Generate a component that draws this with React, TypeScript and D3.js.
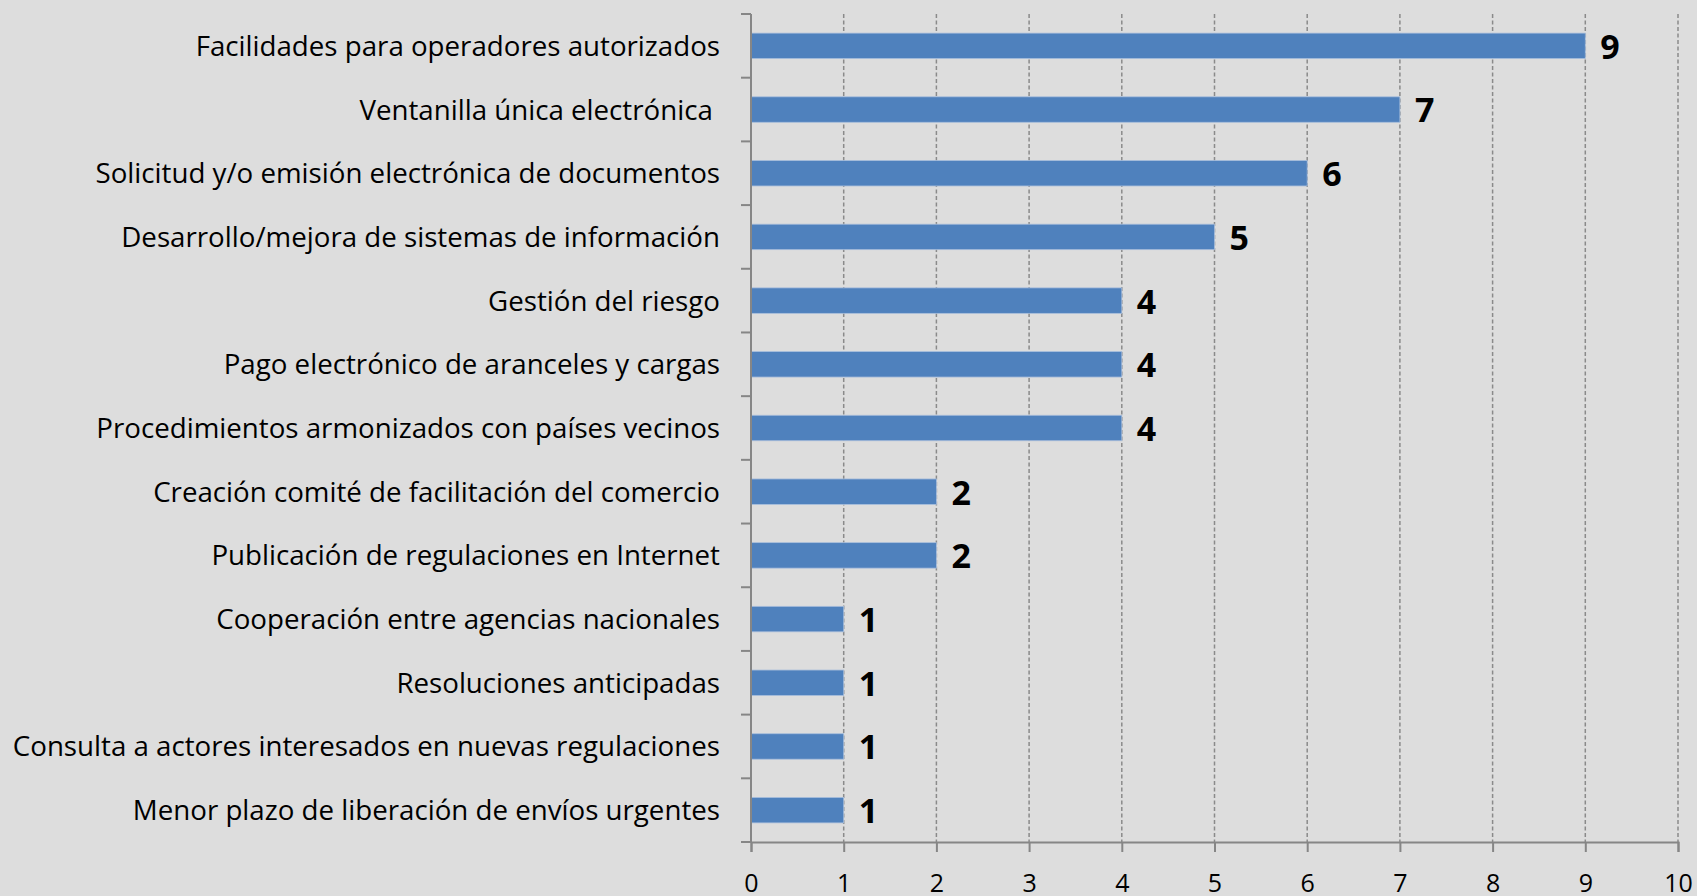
import { useEffect, useRef } from "react";
import * as d3 from "d3";

const categories = [
  "Facilidades para operadores autorizados",
  "Ventanilla única electrónica ",
  "Solicitud y/o emisión electrónica de documentos",
  "Desarrollo/mejora de sistemas de información",
  "Gestión del riesgo",
  "Pago electrónico de aranceles y cargas",
  "Procedimientos armonizados con países vecinos",
  "Creación comité de facilitación del comercio",
  "Publicación de regulaciones en Internet",
  "Cooperación entre agencias nacionales",
  "Resoluciones anticipadas",
  "Consulta a actores interesados en nuevas regulaciones",
  "Menor plazo de liberación de envíos urgentes",
];

const values = [9, 7, 6, 5, 4, 4, 4, 2, 2, 1, 1, 1, 1];

const xTicks = [0, 1, 2, 3, 4, 5, 6, 7, 8, 9, 10];

const FONT = "'Open Sans', Lato, sans-serif";

export default function App() {
  const svgRef = useRef<SVGSVGElement>(null);
  const width = 1697;
  const height = 896;
  const margin = { top: 14, right: 19, bottom: 54, left: 751 };

  useEffect(() => {
    const svg = d3.select(svgRef.current);
    svg.selectAll("*").remove();

    const innerWidth = width - margin.left - margin.right;
    const innerHeight = height - margin.top - margin.bottom;

    const x = d3.scaleLinear().domain([0, 10]).range([0, innerWidth]);
    const y = d3
      .scaleBand()
      .domain(categories)
      .range([0, innerHeight])
      .paddingInner(0.6)
      .paddingOuter(0.3);

    svg
      .append("rect")
      .attr("width", width)
      .attr("height", height)
      .attr("fill", "#dddddd");

    const g = svg
      .append("g")
      .attr("transform", `translate(${margin.left},${margin.top})`);

    // dashed vertical gridlines
    g.selectAll(".grid")
      .data(xTicks.slice(1))
      .enter()
      .append("line")
      .attr("x1", (d) => x(d))
      .attr("x2", (d) => x(d))
      .attr("y1", 0)
      .attr("y2", innerHeight)
      .attr("stroke", "#8a8a8a")
      .attr("stroke-width", 1.5)
      .attr("stroke-dasharray", "4,2.5");

    // bars
    g.selectAll(".bar")
      .data(values)
      .enter()
      .append("rect")
      .attr("x", x(0))
      .attr("y", (_, i) => y(categories[i])!)
      .attr("width", (d) => x(d) - x(0))
      .attr("height", y.bandwidth())
      .attr("fill", "#4f81bd")
      .attr("stroke", "#a9bfdc")
      .attr("stroke-width", 0.8);

    // value labels
    g.selectAll(".val")
      .data(values)
      .enter()
      .append("text")
      .attr("x", (d) => x(d) + 15)
      .attr("y", (_, i) => y(categories[i])! + y.bandwidth() / 2)
      .attr("dy", "0.38em")
      .attr("font-family", FONT)
      .attr("font-weight", "bold")
      .attr("font-size", 34)
      .attr("fill", "#000")
      .text((d) => d);

    const band = innerHeight / categories.length;

    // y axis with category ticks at band boundaries
    g.append("line")
      .attr("x1", 0)
      .attr("x2", 0)
      .attr("y1", 0)
      .attr("y2", innerHeight)
      .attr("stroke", "#868686")
      .attr("stroke-width", 2);

    g.selectAll(".ytick")
      .data(d3.range(categories.length + 1))
      .enter()
      .append("line")
      .attr("x1", -10)
      .attr("x2", 0)
      .attr("y1", (i) => i * band)
      .attr("y2", (i) => i * band)
      .attr("stroke", "#868686")
      .attr("stroke-width", 2);

    g.selectAll(".ylabel")
      .data(categories)
      .enter()
      .append("text")
      .attr("x", -31)
      .attr("y", (d) => y(d)! + y.bandwidth() / 2)
      .attr("dy", "0.36em")
      .attr("text-anchor", "end")
      .attr("font-family", FONT)
      .attr("font-size", 27.7)
      .attr("fill", "#000")
      .style("white-space", "pre")
      .text((d) => d);

    // x axis
    const xAxis = g
      .append("g")
      .attr("transform", `translate(0,${innerHeight})`)
      .call(d3.axisBottom(x).tickValues(xTicks).tickSize(10));
    xAxis.select(".domain").attr("stroke", "#868686").attr("stroke-width", 2);
    xAxis.selectAll(".tick line").attr("stroke", "#868686").attr("stroke-width", 2);
    xAxis
      .selectAll(".tick text")
      .attr("y", 50)
      .attr("dy", 0)
      .attr("font-family", FONT)
      .attr("font-size", 25)
      .attr("fill", "#000");
  }, []);

  return (
    <svg
      ref={svgRef}
      width={width}
      height={height}
      style={{ position: "fixed", left: 0, top: 0, display: "block" }}
    />
  );
}
